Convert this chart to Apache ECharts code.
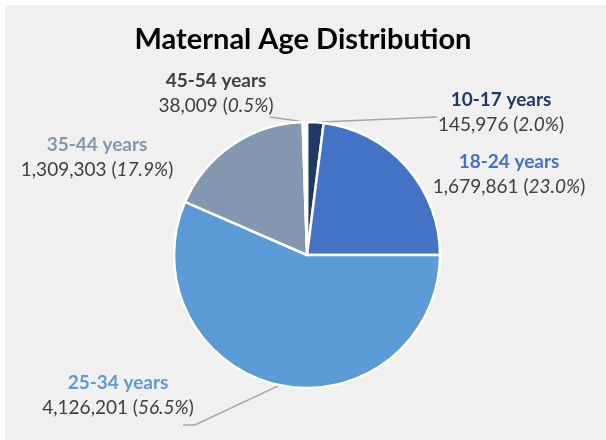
<!DOCTYPE html>
<html>
<head>
<meta charset="utf-8">
<script src="https://cdn.jsdelivr.net/npm/echarts@6/dist/echarts.min.js"></script>
<style>
  html, body { margin: 0; padding: 0; background: #fff; }
  #main { width: 606px; height: 440px; }
</style>
</head>
<body>
<div id="main"></div>
<script>
var categories = ['10-17 years', '18-24 years', '25-34 years', '35-44 years', '45-54 years'];
var births = [145976, 1679861, 4126201, 1309303, 38009];
var sliceColors = ['#203864', '#4472C4', '#5B9BD5', '#8497B0', '#FFFFFF'];
var nameColors = ['#203864', '#4472C4', '#5B9BD5', '#8497B0', '#404040'];

// where each label block sits (center), and where its leader line ends
var labelPos = [
    { x: 501, y: 112, end: [437, 117] },
    { x: 509, y: 174 },
    { x: 118, y: 395, end: [195, 425], tail: [183, 425] },
    { x: 97,  y: 157 },
    { x: 216, y: 93,  end: [270, 117] }
];

var total = births.reduce(function (a, b) { return a + b; }, 0);

var chart = echarts.init(document.getElementById('main'));

var rich = {
    v: { fontSize: 19, color: '#404040', lineHeight: 25, fontFamily: 'Lato' },
    p: { fontSize: 19, color: '#404040', lineHeight: 25, fontStyle: 'italic', fontFamily: 'Lato' }
};
nameColors.forEach(function (c, i) {
    rich['n' + i] = { fontSize: 19, fontWeight: 'bold', color: c, lineHeight: 25, fontFamily: 'Lato' };
});

var pieData = categories.map(function (name, i) {
    return {
        name: name,
        value: births[i],
        itemStyle: { color: sliceColors[i] },
        labelLine: { show: !!labelPos[i].end }
    };
});

var option = {
    backgroundColor: '#fff',
    textStyle: { fontFamily: 'Lato' },
    graphic: [{
        type: 'rect',
        silent: true,
        z: -10,
        shape: { x: 5, y: 5, width: 601, height: 435 },
        style: { fill: '#F0F0F0' }
    }],
    title: {
        text: 'Maternal Age Distribution',
        left: 'center',
        top: 20,
        textStyle: {
            fontFamily: 'Lato',
            fontSize: 29,
            fontWeight: 'bold',
            color: '#000'
        }
    },
    series: [{
        type: 'pie',
        center: [307, 255],
        radius: 133,
        startAngle: 90,
        clockwise: true,
        avoidLabelOverlap: false,
        animation: false,
        itemStyle: { borderColor: '#fff', borderWidth: 2.5 },
        label: {
            show: true,
            position: 'outside',
            align: 'center',
            formatter: function (p) {
                var pct = (p.value / total * 100).toFixed(1);
                return '{n' + p.dataIndex + '|' + p.name + '}\n' +
                    '{v|' + p.value.toLocaleString('en-US') + ' (}{p|' + pct + '%}{v|)}';
            },
            rich: rich
        },
        labelLine: {
            show: true,
            lineStyle: { color: '#A6A6A6', width: 1.5 },
            length: 10,
            length2: 10
        },
        labelLayout: function (params) {
            var pos = labelPos[params.dataIndex];
            var out = {
                x: pos.x,
                y: pos.y,
                align: 'center',
                verticalAlign: 'middle'
            };
            if (pos.end && params.labelLinePoints) {
                var pts = [params.labelLinePoints[0], pos.end];
                if (pos.tail) pts.push(pos.tail);
                out.labelLinePoints = pts;
            }
            return out;
        },
        data: pieData
    }]
};

chart.setOption(option);
</script>
</body>
</html>
